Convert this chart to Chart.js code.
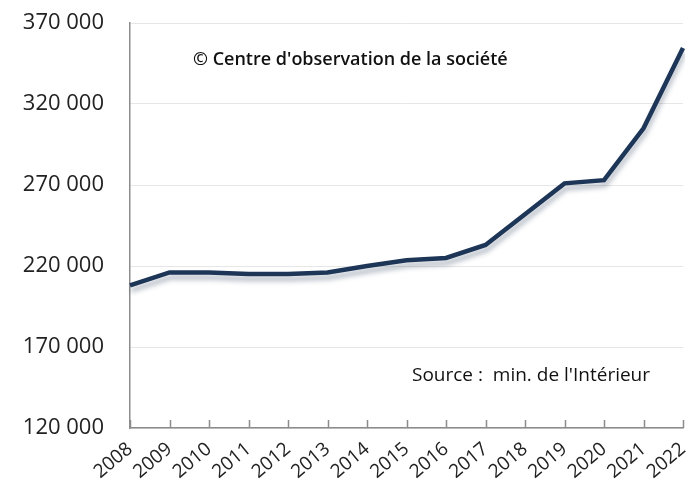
<!DOCTYPE html>
<html lang="fr">
<head>
<meta charset="utf-8">
<script src="https://cdn.jsdelivr.net/npm/chart.js@4.4.1/dist/chart.umd.min.js"></script>
<style>
    html, body { margin: 0; padding: 0; background: #fff; }
    #wrap { width: 688px; height: 491px; }
</style>
</head>
<body>
<div id="wrap"><canvas id="chart"></canvas></div>
<script>
// Data
const years = ['2008', '2009', '2010', '2011', '2012', '2013', '2014', '2015',
    '2016', '2017', '2018', '2019', '2020', '2021', '2022'];
const counts = [208000, 216000, 216000, 215000, 215000, 216000, 220000, 223500,
    225000, 233000, 252000, 271000, 273000, 305000, 354500];
const yTicks = [120000, 170000, 220000, 270000, 320000, 370000];

// French style thousands: "370 000"
function formatNum(v) {
    return Math.floor(v / 1000) + ' ' + String(v % 1000).padStart(3, '0');
}

// Soft shadow under the line
const lineShadow = {
    id: 'lineShadow',
    beforeDatasetDraw(chart) {
        const ctx = chart.ctx;
        ctx.save();
        ctx.shadowColor = 'rgba(40, 60, 90, 0.35)';
        ctx.shadowBlur = 5;
        ctx.shadowOffsetX = 1;
        ctx.shadowOffsetY = 5;
    },
    afterDatasetDraw(chart) {
        chart.ctx.restore();
    }
};

// Small tick marks pointing up into the plot, plus the two notes
const extras = {
    id: 'extras',
    afterDraw(chart) {
        const ctx = chart.ctx;
        const area = chart.chartArea;
        const x = chart.scales.x;
        ctx.save();
        ctx.strokeStyle = '#8c8c8c';
        ctx.lineWidth = 1.5;
        ctx.beginPath();
        x.ticks.forEach((t, i) => {
            const px = Math.round(x.getPixelForTick(i)) + 0.5;
            ctx.moveTo(px, area.bottom);
            ctx.lineTo(px, area.bottom - 8);
        });
        ctx.stroke();

        ctx.fillStyle = '#111';
        ctx.textBaseline = 'middle';
        ctx.textAlign = 'left';
        ctx.font = '600 18px "Open Sans"';
        ctx.fillText("© Centre d'observation de la société", area.left + 63, area.top + 37);
        ctx.font = '19px "Open Sans"';
        ctx.fillText("Source :  min. de l'Intérieur", area.left + 282, area.top + 353);
        ctx.restore();
    }
};

new Chart(document.getElementById('chart'), {
    type: 'line',
    data: {
        labels: years,
        datasets: [{
            data: counts,
            borderColor: '#1d3658',
            borderWidth: 4.5,
            pointRadius: 0,
            tension: 0,
            fill: false
        }]
    },
    options: {
        responsive: true,
        maintainAspectRatio: false,
        animation: false,
        layout: { padding: { top: 23, right: 5, left: 0, bottom: 0 } },
        plugins: {
            legend: { display: false },
            tooltip: { enabled: false }
        },
        scales: {
            x: {
                offset: false,
                afterFit(scale) {
                    scale.height = 63;
                    scale.paddingLeft = 0;
                    scale.paddingRight = 0;
                },
                grid: {
                    display: true,
                    drawOnChartArea: false,
                    drawTicks: false,
                    color: '#8c8c8c'
                },
                border: { color: '#8c8c8c', width: 1.5 },
                ticks: {
                    color: '#222',
                    font: { family: 'Open Sans', size: 19 },
                    minRotation: 40,
                    maxRotation: 40,
                    autoSkip: false,
                    padding: 10
                }
            },
            y: {
                min: 120000,
                max: 370000,
                afterBuildTicks(scale) {
                    scale.ticks = yTicks.map(v => ({ value: v }));
                },
                afterFit(scale) {
                    scale.width = 130;
                    scale.paddingTop = 0;
                    scale.paddingBottom = 0;
                },
                grid: {
                    color: '#e6e6e6',
                    drawTicks: false
                },
                border: { color: '#8c8c8c', width: 1.5 },
                ticks: {
                    color: '#222',
                    font: { family: 'Open Sans', size: 22 },
                    padding: 26,
                    callback: v => formatNum(v)
                }
            }
        }
    },
    plugins: [lineShadow, extras]
});
</script>
</body>
</html>
